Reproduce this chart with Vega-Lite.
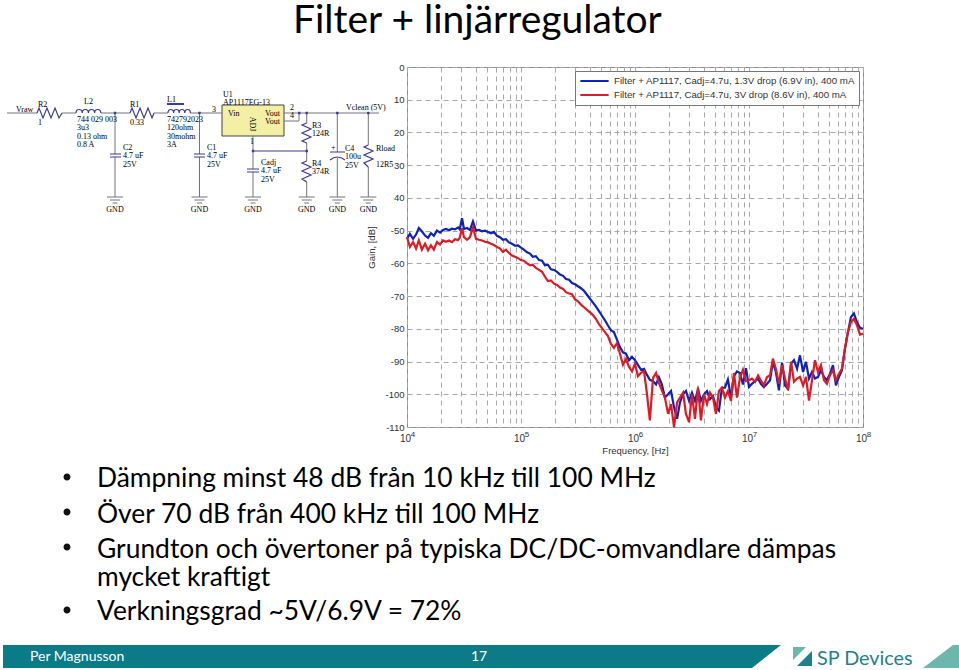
{
"$schema":"https://vega.github.io/schema/vega-lite/v6.json",
"autosize":{"type":"none"},
"padding":{"left":407,"top":67,"right":96,"bottom":243},
"width":456,"height":360,
"background":"white",
"data":{"values":[{}]},
"config":{"view":{"stroke":"#8c8c8c","strokeWidth":1},
"axis":{"labelOverlap":false},
"style":{"sch":{"font":"Liberation Serif","fontSize":8,"fill":"#55556a","lineHeight":8.3,"align":"left","baseline":"alphabetic"},
"body":{"font":"Lato","fontSize":26.4,"fill":"#111111","align":"left","baseline":"alphabetic"},
"wire":{"size":4,"x":-407,"y":-67,"opacity":1}}},
"datasets":{
"curves":[
{"f":10000,"b":-52.5,"r":-52},{"f":10600,"b":-51,"r":-55},{"f":11300,"b":-52.5,"r":-53.5},{"f":12000,"b":-51.2,"r":-55.5},{"f":12700,"b":-49.2,"r":-53},{"f":13500,"b":-50.2,"r":-55.8},{"f":14400,"b":-51.5,"r":-54},{"f":15300,"b":-52.2,"r":-56},{"f":16200,"b":-50.8,"r":-54.5},{"f":17200,"b":-51.6,"r":-55.8},{"f":18300,"b":-50,"r":-53.5},{"f":19500,"b":-50.6,"r":-54.2},{"f":20700,"b":-49.8,"r":-53},{"f":22000,"b":-49.5,"r":-53.4},{"f":23400,"b":-49.9,"r":-53},{"f":24800,"b":-49.4,"r":-53.5},{"f":26400,"b":-49.6,"r":-52.6},{"f":28000,"b":-49,"r":-52.9},{"f":29000,"b":-49.6,"r":-52.2},{"f":30400,"b":-46.2,"r":-49.3},{"f":31600,"b":-49.5,"r":-52},{"f":33600,"b":-49.2,"r":-52.8},{"f":35700,"b":-49.8,"r":-52},{"f":37900,"b":-47.2,"r":-49},{"f":40300,"b":-50,"r":-52.5},{"f":42800,"b":-49.8,"r":-52.8},{"f":45500,"b":-50.2,"r":-53},{"f":48300,"b":-50,"r":-53.4},{"f":51300,"b":-50.4,"r":-53.6},{"f":54500,"b":-50.8,"r":-54},{"f":57900,"b":-50.4,"r":-54.4},{"f":61500,"b":-51.6,"r":-55},{"f":65300,"b":-52,"r":-55.4},{"f":69500,"b":-52.8,"r":-56.5},{"f":73800,"b":-52.6,"r":-55.8},{"f":78400,"b":-53.6,"r":-56.8},{"f":83300,"b":-54,"r":-57.6},{"f":88500,"b":-54.6,"r":-58},{"f":94100,"b":-54.5,"r":-58.4},
{"f":100000,"b":-55.2,"r":-59},{"f":106000,"b":-55.8,"r":-59.2},{"f":113000,"b":-56.6,"r":-60},{"f":120000,"b":-57,"r":-60.6},{"f":127000,"b":-58,"r":-60.4},{"f":135000,"b":-57.8,"r":-61.4},{"f":144000,"b":-59,"r":-62},{"f":153000,"b":-59.2,"r":-62.6},{"f":162000,"b":-60.6,"r":-64},{"f":172000,"b":-60.4,"r":-65.4},{"f":183000,"b":-61.8,"r":-65.2},{"f":195000,"b":-62,"r":-66.2},{"f":207000,"b":-62.6,"r":-66.6},{"f":220000,"b":-63.4,"r":-67.4},{"f":234000,"b":-63.8,"r":-67.8},{"f":248000,"b":-64.8,"r":-68.8},{"f":264000,"b":-65,"r":-69.2},{"f":280000,"b":-66,"r":-69.4},{"f":298000,"b":-66.4,"r":-71},{"f":316000,"b":-67,"r":-71.6},{"f":336000,"b":-67.6,"r":-72.6},{"f":357000,"b":-68.4,"r":-73.4},{"f":379000,"b":-69.6,"r":-74.2},{"f":403000,"b":-70.8,"r":-75},{"f":428000,"b":-72,"r":-75.8},{"f":455000,"b":-73.2,"r":-77},{"f":483000,"b":-74.6,"r":-78.6},{"f":513000,"b":-76,"r":-79.8},{"f":545000,"b":-77.4,"r":-81},{"f":579000,"b":-79,"r":-82.2},{"f":615000,"b":-80.4,"r":-84.6},{"f":653000,"b":-81,"r":-85.8},{"f":695000,"b":-83.4,"r":-84.4},{"f":738000,"b":-85.6,"r":-87.6},{"f":784000,"b":-87.2,"r":-91},{"f":833000,"b":-87.6,"r":-89.2},{"f":885000,"b":-89.6,"r":-91.6},{"f":941000,"b":-88.6,"r":-93},
{"f":1000000,"b":-89.6,"r":-90.6},{"f":1060000,"b":-91,"r":-94.5},{"f":1130000,"b":-92.5,"r":-93.4},{"f":1200000,"b":-92.2,"r":-93},{"f":1270000,"b":-94,"r":-99.5},{"f":1350000,"b":-95.6,"r":-108},{"f":1440000,"b":-96,"r":-95},{"f":1530000,"b":-97,"r":-93.5},{"f":1620000,"b":-94.8,"r":-96.5},{"f":1720000,"b":-97,"r":-98.8},{"f":1830000,"b":-101,"r":-101},{"f":1950000,"b":-100,"r":-106},{"f":2070000,"b":-99,"r":-103},{"f":2200000,"b":-104,"r":-110},{"f":2340000,"b":-107.5,"r":-102.5},{"f":2480000,"b":-102.5,"r":-101},{"f":2640000,"b":-100,"r":-99.5},{"f":2800000,"b":-99,"r":-106},{"f":2980000,"b":-102,"r":-108.5},{"f":3160000,"b":-99.5,"r":-100},{"f":3360000,"b":-102,"r":-107.5},{"f":3570000,"b":-98.5,"r":-98},{"f":3790000,"b":-102,"r":-108},{"f":4030000,"b":-100,"r":-100},{"f":4280000,"b":-99,"r":-103},{"f":4550000,"b":-101.5,"r":-99.5},{"f":4830000,"b":-100.5,"r":-101},{"f":5130000,"b":-104,"r":-106},{"f":5450000,"b":-105,"r":-99},{"f":5790000,"b":-98,"r":-98},{"f":6150000,"b":-98,"r":-101},{"f":6530000,"b":-95.5,"r":-99},{"f":6950000,"b":-101,"r":-102},{"f":7380000,"b":-94.5,"r":-93.5},{"f":7840000,"b":-93,"r":-101},{"f":8330000,"b":-93.5,"r":-95},{"f":8850000,"b":-97,"r":-92.5},{"f":9410000,"b":-92,"r":-96},
{"f":10000000,"b":-97.8,"r":-95.7},{"f":10600000,"b":-96.8,"r":-95.2},{"f":11300000,"b":-96,"r":-96.2},{"f":12000000,"b":-95.2,"r":-94.2},{"f":12700000,"b":-96.8,"r":-95.7},{"f":13500000,"b":-97.8,"r":-97.3},{"f":14400000,"b":-96.8,"r":-94.7},{"f":15300000,"b":-95.7,"r":-94.2},{"f":16200000,"b":-90.1,"r":-89.1},{"f":17200000,"b":-93.2,"r":-92.2},{"f":18300000,"b":-98.8,"r":-96.8},{"f":19500000,"b":-90.3,"r":-91.1},{"f":20700000,"b":-97.3,"r":-95.2},{"f":22000000,"b":-98.3,"r":-98.8},{"f":23400000,"b":-90.6,"r":-90.1},{"f":24800000,"b":-89.6,"r":-96.2},{"f":26400000,"b":-92.2,"r":-95.2},{"f":28000000,"b":-88.1,"r":-94.7},{"f":29800000,"b":-93.2,"r":-97.3},{"f":31600000,"b":-90.1,"r":-94.7},{"f":33600000,"b":-95.2,"r":-101.9},{"f":35700000,"b":-93.2,"r":-95.7},{"f":37900000,"b":-95.2,"r":-89.6},{"f":40300000,"b":-94.7,"r":-93.2},{"f":42800000,"b":-92.7,"r":-91.1},{"f":45500000,"b":-94.7,"r":-95.7},{"f":48300000,"b":-95.7,"r":-96.8},{"f":51300000,"b":-93.7,"r":-94.2},{"f":54500000,"b":-91.1,"r":-92.7},{"f":57900000,"b":-97.3,"r":-95.7},{"f":61500000,"b":-94.7,"r":-93.7},{"f":65300000,"b":-92.7,"r":-92.2},{"f":69500000,"b":-86,"r":-86},{"f":73800000,"b":-81,"r":-81},{"f":78400000,"b":-76.4,"r":-77.9},{"f":83300000,"b":-75.3,"r":-76.9},{"f":88500000,"b":-78,"r":-78.9},{"f":94100000,"b":-79.7,"r":-81.8},{"f":100000000,"b":-80,"r":-81.5}
],
"exps":[{"f":10000,"e":"4"},{"f":100000,"e":"5"},{"f":1000000,"e":"6"},{"f":10000000,"e":"7"},{"f":100000000,"e":"8"}]
},
"layer":[
{"mark":{"type":"point","style":"wire","filled":true,"color":"#0a7b87","shape":"M3 645H781L752 668H3Z"},"encoding":{}},
{"mark":{"type":"point","style":"wire","filled":true,"color":"#6cb6ad","shape":"M953 645H959V668H923ZM793 647H806L793 660Z"},"encoding":{}},
{"mark":{"type":"point","style":"wire","filled":true,"color":"#1f7f8c","shape":"M812 651V666H797Z"},"encoding":{}},
{"mark":{"type":"point","style":"wire","filled":true,"color":"#111111","shape":"M70.5 477a3.5 3.5 0 1 0 -7 0a3.5 3.5 0 1 0 7 0ZM70.5 512a3.5 3.5 0 1 0 -7 0a3.5 3.5 0 1 0 7 0ZM70.5 547a3.5 3.5 0 1 0 -7 0a3.5 3.5 0 1 0 7 0ZM70.5 610a3.5 3.5 0 1 0 -7 0a3.5 3.5 0 1 0 7 0Z"},"encoding":{}},
{"mark":{"type":"point","style":"wire","filled":true,"color":"#f3efa5","shape":"M222 105H284V136H222Z"},"encoding":{}},
{"mark":{"type":"point","style":"wire","filled":false,"color":"#444444","strokeWidth":1,"shape":"M222 105H284V136H222Z"},"encoding":{}},
{"mark":{"type":"point","style":"wire","filled":false,"color":"#72727e","strokeWidth":1,"shape":"M7 113H37M62 113H76M101 113H130M154 113H168M190 113H222M284 113H379M284 121H299V113M115 113V154M115 157V197M199.5 113V154M199.5 157V197M253 136V169M253 172V197M306.7 113V123M306.7 143V161M306.7 182V197M337.3 113V152M337.3 158V197M368.3 113V145M368.3 167V197M107 197H123M110 200H120M112.5 203H117.5M191.5 197H207.5M194.5 200H204.5M197 203H202M245 197H261M248 200H258M250.5 203H255.5M298.7 197H314.7M301.7 200H311.7M304.2 203H309.2M329.3 197H345.3M332.3 200H342.3M334.8 203H339.8M360.3 197H376.3M363.3 200H373.3M365.8 203H370.8"},"encoding":{}},
{"mark":{"type":"point","style":"wire","filled":false,"color":"#3b3b99","strokeWidth":1.2,"shape":"M37 113L39 108L43 118L47 108L51 118L55 108L59 118L62 113M130 113L132 108L136 118L140 108L144 118L148 108L152 118L154 113M76 113a3.1 3.5 0 0 1 6.2 0a3.1 3.5 0 0 1 6.2 0a3.1 3.5 0 0 1 6.2 0a3.1 3.5 0 0 1 6.2 0M168 113a2.8 3.5 0 0 1 5.6 0a2.8 3.5 0 0 1 5.6 0a2.8 3.5 0 0 1 5.6 0a2.8 3.5 0 0 1 5.6 0M167 103.5H184M167 104.5H184M306.7 123L302 125L311 129L302 133L311 137L302 141L306.7 143M306.7 161L302 163L311 167L302 171L311 175L302 179L306.7 182M368.3 145L364 147L373 151L364 155L373 159L364 163L368.3 167M110 154H121M110 157H121M194 154H205M194 157H205M247 169H259M247 172H259M330 152H345M330 160Q337.3 154 345 160M253 151H306.7"},"encoding":{}},
{"mark":{"type":"point","style":"wire","filled":true,"color":"#3b3b99","shape":"M113.8 111.8h2.4v2.4h-2.4zM198.3 111.8h2.4v2.4h-2.4zM298.1 111.8h2.4v2.4h-2.4zM305.5 111.8h2.4v2.4h-2.4zM336.1 111.8h2.4v2.4h-2.4zM367.1 111.8h2.4v2.4h-2.4zM251.8 149.8h2.4v2.4h-2.4zM305.5 149.8h2.4v2.4h-2.4z"},"encoding":{}},
{"mark":{"type":"text","style":"sch","text":"Vraw","x":-391,"y":45},"encoding":{}},
{"mark":{"type":"text","style":"sch","text":"R2","x":-369,"y":40},"encoding":{}},
{"mark":{"type":"text","style":"sch","text":"1","x":-369,"y":58},"encoding":{}},
{"mark":{"type":"text","style":"sch","text":"L2","x":-323,"y":37},"encoding":{}},
{"mark":{"type":"text","style":"sch","text":["744 029 003","3u3","0.13 ohm","0.8 A"],"x":-330,"y":55},"encoding":{}},
{"mark":{"type":"text","style":"sch","text":"R1","x":-277,"y":40},"encoding":{}},
{"mark":{"type":"text","style":"sch","text":"0.33","x":-277,"y":58},"encoding":{}},
{"mark":{"type":"text","style":"sch","text":"L1","x":-240,"y":35},"encoding":{}},
{"mark":{"type":"text","style":"sch","text":["742792023","120ohm","30mohm","3A"],"x":-240,"y":55},"encoding":{}},
{"mark":{"type":"text","style":"sch","text":["C2","4.7 uF","25V"],"x":-284,"y":83},"encoding":{}},
{"mark":{"type":"text","style":"sch","text":["C1","4.7 uF","25V"],"x":-200,"y":83},"encoding":{}},
{"mark":{"type":"text","style":"sch","text":"3","x":-195,"y":45},"encoding":{}},
{"mark":{"type":"text","style":"sch","text":["U1","AP1117EG-13"],"x":-184,"y":30},"encoding":{}},
{"mark":{"type":"text","style":"sch","text":"Vin","x":-179,"y":49},"encoding":{}},
{"mark":{"type":"text","style":"sch","text":["Vout","Vout"],"x":-142,"y":49},"encoding":{}},
{"mark":{"type":"text","style":"sch","text":"ADJ","x":-155,"y":57,"angle":90,"align":"center","baseline":"middle"},"encoding":{}},
{"mark":{"type":"text","style":"sch","text":"1","x":-157,"y":77},"encoding":{}},
{"mark":{"type":"text","style":"sch","text":"2","x":-117,"y":43},"encoding":{}},
{"mark":{"type":"text","style":"sch","text":"4","x":-117,"y":51},"encoding":{}},
{"mark":{"type":"text","style":"sch","text":["Cadj","4.7 uF","25V"],"x":-146,"y":98},"encoding":{}},
{"mark":{"type":"text","style":"sch","text":["R3","124R"],"x":-95,"y":61},"encoding":{}},
{"mark":{"type":"text","style":"sch","text":["R4","374R"],"x":-95,"y":99},"encoding":{}},
{"mark":{"type":"text","style":"sch","text":["C4","100u","25V"],"x":-62,"y":84},"encoding":{}},
{"mark":{"type":"text","style":"sch","text":"+","x":-76,"y":83},"encoding":{}},
{"mark":{"type":"text","style":"sch","text":"Vclean (5V)","x":-61,"y":43},"encoding":{}},
{"mark":{"type":"text","style":"sch","text":"Rload","x":-31,"y":84},"encoding":{}},
{"mark":{"type":"text","style":"sch","text":"12R5","x":-31,"y":100},"encoding":{}},
{"mark":{"type":"text","style":"sch","text":"GND","x":-292,"y":145,"align":"center"},"encoding":{}},
{"mark":{"type":"text","style":"sch","text":"GND","x":-207.5,"y":145,"align":"center"},"encoding":{}},
{"mark":{"type":"text","style":"sch","text":"GND","x":-154,"y":145,"align":"center"},"encoding":{}},
{"mark":{"type":"text","style":"sch","text":"GND","x":-100.3,"y":145,"align":"center"},"encoding":{}},
{"mark":{"type":"text","style":"sch","text":"GND","x":-69.7,"y":145,"align":"center"},"encoding":{}},
{"mark":{"type":"text","style":"sch","text":"GND","x":-38.7,"y":145,"align":"center"},"encoding":{}},
{"mark":{"type":"text","style":"body","text":"Filter + linjärregulator","x":-114,"y":-34,"fontSize":39},"encoding":{}},
{"mark":{"type":"text","style":"body","text":"Dämpning minst 48 dB från 10 kHz till 100 MHz","x":-310,"y":420},"encoding":{}},
{"mark":{"type":"text","style":"body","text":"Över 70 dB från 400 kHz till 100 MHz","x":-310,"y":456},"encoding":{}},
{"mark":{"type":"text","style":"body","text":"Grundton och övertoner på typiska DC/DC-omvandlare dämpas","x":-310,"y":491},"encoding":{}},
{"mark":{"type":"text","style":"body","text":"mycket kraftigt","x":-310,"y":519},"encoding":{}},
{"mark":{"type":"text","style":"body","text":"Verkningsgrad ~5V/6.9V = 72%","x":-310,"y":553},"encoding":{}},
{"mark":{"type":"text","style":"body","text":"Per Magnusson","x":-377,"y":594,"fontSize":14,"fill":"white"},"encoding":{}},
{"mark":{"type":"text","style":"body","text":"17","x":64,"y":594,"fontSize":14,"fill":"white"},"encoding":{}},
{"mark":{"type":"text","style":"body","text":"SP Devices","x":410,"y":598,"fontSize":19.8,"fill":"#1f7f8c"},"encoding":{}},
{"data":{"name":"curves"},
 "transform":[{"fold":["b","r"],"as":["s","db"]}],
 "mark":{"type":"line","strokeWidth":2.2,"interpolate":"linear"},
 "encoding":{
  "x":{"field":"f","type":"quantitative","scale":{"type":"log","domain":[10000,100000000],"nice":false},
   "axis":{"title":"Frequency, [Hz]","values":[10000,20000,30000,40000,50000,60000,70000,80000,90000,100000,200000,300000,400000,500000,600000,700000,800000,900000,1000000,2000000,3000000,4000000,5000000,6000000,7000000,8000000,9000000,10000000,20000000,30000000,40000000,50000000,60000000,70000000,80000000,90000000,100000000],
    "labelExpr":"abs(log(datum.value)/LN10-round(log(datum.value)/LN10))<0.001?'10':''","labelOverlap":false,"labelFlush":false,"labelOffset":-2,"labelPadding":6,"labelFont":"Liberation Sans","labelFontSize":10,"labelColor":"#333333","titleFont":"Liberation Sans","titleFontSize":9.5,"titleFontWeight":"normal","titleColor":"#333333","titlePadding":2,"domain":false,"ticks":false,"grid":true,"gridColor":"#a8a8a8","gridDash":[5,4],"gridWidth":1}},
  "y":{"field":"db","type":"quantitative","scale":{"domain":[-110,0],"nice":false},
   "axis":{"title":"Gain, [dB]","values":[0,-10,-20,-30,-40,-50,-60,-70,-80,-90,-100,-110],"labelExpr":"datum.value>-50?''+abs(datum.value):''+datum.value","labelOverlap":false,"labelFont":"Liberation Sans","labelFontSize":9.5,"labelColor":"#333333","labelPadding":3,"titleFont":"Liberation Sans","titleFontSize":9.5,"titleFontWeight":"normal","titleColor":"#333333","titlePadding":8,"domain":false,"ticks":false,"grid":true,"gridColor":"#a8a8a8","gridDash":[5,4],"gridWidth":1}},
  "color":{"field":"s","type":"nominal","scale":{"domain":["b","r"],"range":["#0f22bb","#e01a22"]},
   "legend":{"orient":"none","legendX":168,"legendY":4,"title":null,"symbolType":"stroke","symbolSize":800,"symbolStrokeWidth":2,"clipHeight":12,"fillColor":"white","strokeColor":"#777777","padding":4,"labelFont":"Liberation Sans","labelFontSize":9.7,"labelColor":"#333333","labelLimit":400,"rowPadding":2,"labelOffset":4,
    "labelExpr":"datum.label=='b'?'Filter + AP1117, Cadj=4.7u, 1.3V drop (6.9V in), 400 mA':'Filter + AP1117, Cadj=4.7u, 3V drop (8.6V in), 400 mA'"}}
 }},
{"data":{"name":"exps"},
 "mark":{"type":"text","font":"Liberation Sans","fontSize":8,"fill":"#333333","dx":6,"y":368},
 "encoding":{"x":{"field":"f","type":"quantitative"},"text":{"field":"e"}}}
]
}
